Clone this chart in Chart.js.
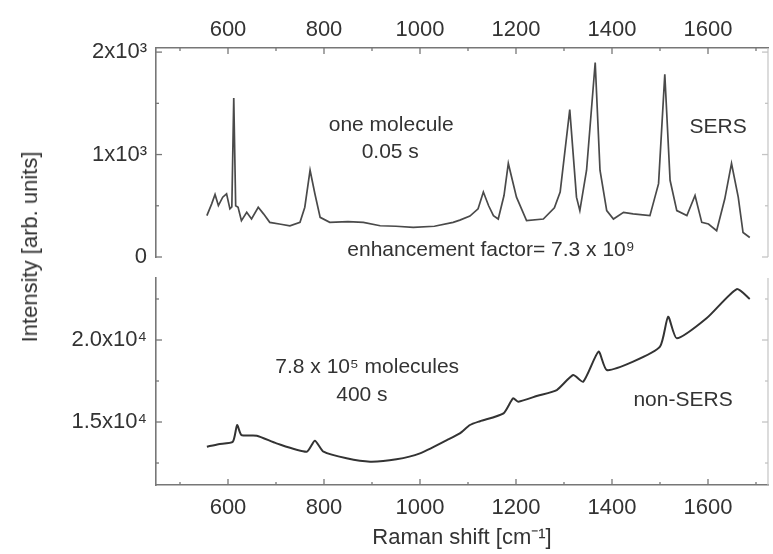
<!DOCTYPE html>
<html>
<head>
<meta charset="utf-8">
<script src="https://cdn.jsdelivr.net/npm/chart.js@4/dist/chart.umd.min.js"></script>
<style>
  html, body { margin: 0; padding: 0; background: #ffffff; }
  #wrap { position: relative; width: 773px; height: 554px; overflow: hidden; background: #fff; }
  canvas { position: absolute; left: 0; top: 0; }
  #ytitle { position: absolute; left: 30px; top: 247px; transform: translate(-50%, -50%) rotate(-90deg);
    font-family: "Liberation Sans", Arial, sans-serif; font-size: 22px; color: #333; white-space: nowrap; }
</style>
</head>
<body>
<div id="wrap">
  <canvas id="top" width="773" height="554"></canvas>
  <canvas id="bottom" width="773" height="554"></canvas>
  <div id="ytitle">Intensity [arb. units]</div>
</div>
<script>
// ---- data ----
const sersShift = [556,566,573,580,589,597,604,608,612,616,621,628,639,649,663,674,687,710,729,750,760,771,781,792,812,850,882,917,950,986,1030,1069,1083,1104,1121,1132,1143,1153,1163,1175,1184,1201,1222,1257,1280,1292,1312,1326,1333,1347,1365,1375,1389,1403,1424,1444,1479,1497,1510,1521,1535,1556,1573,1587,1601,1618,1635,1649,1663,1673,1687];
const sersIntensity = [404,519,611,502,584,617,470,490,1553,500,486,355,436,371,486,421,338,320,305,338,486,847,617,387,338,345,338,305,300,289,300,338,360,400,470,634,500,404,371,600,913,584,355,371,480,634,1438,584,453,847,1898,847,453,371,436,421,404,716,1783,749,453,404,601,338,322,256,568,913,584,239,190];

const nonSersShift = [556,580,610,619,628,660,701,764,781,799,847,896,951,1000,1056,1083,1104,1125,1174,1194,1205,1245,1285,1319,1340,1372,1389,1444,1500,1517,1535,1597,1660,1687];
const nonSersIntensity = [13494,13650,13800,14817,14207,14165,13700,13190,13860,13190,12785,12580,12725,13090,13900,14310,14817,15050,15530,16445,16240,16600,16950,17865,17460,19290,18170,18680,19590,21420,20100,21320,23100,22500];

const shiftTicks = [500,600,700,800,900,1000,1100,1200,1300,1400,1500,1600,1700];
const shiftLabels = [600,800,1000,1200,1400,1600];
const sersTicks = [0,500,1000,1500,2000];
const sersTickLabels = {0:'0', 1000:'1x10\u00B3', 2000:'2x10\u00B3'};
const nonSersTicks = [12500,15000,17500,20000,22500];
const nonSersTickLabels = {15000:'1.5x10\u2074', 20000:'2.0x10\u2074'};

const FONT = '"Liberation Sans", Arial, sans-serif';
const TEXT = '#333';
const AXIS = '#777';

// ---- plugins ----
const inwardTicks = {
  id: 'inwardTicks',
  afterDraw(chart, args, opts) {
    const {ctx, chartArea: a} = chart;
    const xs = chart.scales.x, ys = chart.scales.y;
    ctx.save();
    ctx.lineWidth = 1.3;
    ctx.strokeStyle = AXIS;
    xs.ticks.forEach(t => {
      const p = xs.getPixelForValue(t.value);
      const len = shiftLabels.includes(t.value) ? 6 : 3;
      const y0 = opts.xEdge === 'top' ? a.top : a.bottom;
      const d = opts.xEdge === 'top' ? 1 : -1;
      ctx.beginPath(); ctx.moveTo(p, y0); ctx.lineTo(p, y0 + d * len); ctx.stroke();
    });
    ys.ticks.forEach(t => {
      const p = ys.getPixelForValue(t.value);
      const len = opts.yLabels[t.value] !== undefined ? 6 : 3;
      ctx.strokeStyle = AXIS;
      ctx.beginPath(); ctx.moveTo(a.left, p); ctx.lineTo(a.left + len, p); ctx.stroke();
      ctx.strokeStyle = '#c4c4c4';
      ctx.beginPath(); ctx.moveTo(a.right, p); ctx.lineTo(a.right - len, p); ctx.stroke();
    });
    ctx.strokeStyle = '#c4c4c4';
    ctx.lineWidth = 1.2;
    ctx.beginPath(); ctx.moveTo(a.right, a.top); ctx.lineTo(a.right, a.bottom); ctx.stroke();
    ctx.restore();
  }
};

const notes = {
  id: 'notes',
  afterDraw(chart, args, opts) {
    const {ctx} = chart;
    const xs = chart.scales.x, ys = chart.scales.y;
    ctx.save();
    ctx.fillStyle = TEXT;
    ctx.font = '21px ' + FONT;
    ctx.textAlign = 'center';
    ctx.textBaseline = 'middle';
    opts.items.forEach(it => {
      ctx.fillText(it.text, xs.getPixelForValue(it.x), ys.getPixelForValue(it.y));
    });
    ctx.restore();
  }
};

function xScale(position, height, padding, title) {
  return {
    type: 'linear', position: position, min: 450, max: 1725,
    afterBuildTicks: s => { s.ticks = shiftTicks.map(v => ({value: v})); },
    afterFit: s => { s.height = height; },
    grid: {display: false, drawTicks: false},
    border: {display: true, color: AXIS, width: 1.6},
    ticks: {
      autoSkip: false, maxRotation: 0, minRotation: 0, padding: padding,
      color: TEXT, font: {family: FONT, size: 22},
      callback: v => shiftLabels.includes(v) ? String(v) : ''
    },
    title: title
  };
}

function yScale(min, max, ticks, labels) {
  return {
    type: 'linear', min: min, max: max,
    afterBuildTicks: s => { s.ticks = ticks.map(v => ({value: v})); },
    afterFit: s => { s.width = 156; },
    grid: {display: false, drawTicks: false},
    border: {display: true, color: AXIS, width: 1.6},
    ticks: {
      autoSkip: false, padding: 9, color: TEXT, font: {family: FONT, size: 22},
      callback: v => labels[v] !== undefined ? labels[v] : ''
    }
  };
}

// ---- top panel: SERS ----
new Chart(document.getElementById('top'), {
  type: 'line',
  data: {
    datasets: [{
      data: sersShift.map((x, i) => ({x: x, y: sersIntensity[i]})),
      borderColor: '#4a4a4a', borderWidth: 1.7, pointRadius: 0, tension: 0, fill: false
    }]
  },
  options: {
    animation: false, responsive: false, events: [],
    layout: {padding: {left: 0, right: 5, top: 0, bottom: 297}},
    plugins: {
      legend: {display: false}, tooltip: {enabled: false},
      inwardTicks: {xEdge: 'top', yLabels: sersTickLabels},
      notes: {items: [
        {text: 'one molecule', x: 940, y: 1288},
        {text: '0.05 s', x: 938, y: 1025},
        {text: 'SERS', x: 1621, y: 1269},
        {text: 'enhancement factor= 7.3 x 10\u2079', x: 1148, y: 68}
      ]}
    },
    scales: {
      x: xScale('top', 48, 5, {display: false}),
      y: yScale(0, 2040, sersTicks, sersTickLabels)
    }
  },
  plugins: [inwardTicks, notes]
});

// ---- bottom panel: non-SERS ----
new Chart(document.getElementById('bottom'), {
  type: 'line',
  data: {
    datasets: [{
      data: nonSersShift.map((x, i) => ({x: x, y: nonSersIntensity[i]})),
      borderColor: '#333333', borderWidth: 2, pointRadius: 0, tension: 0.2, fill: false
    }]
  },
  options: {
    animation: false, responsive: false, events: [],
    layout: {padding: {left: 0, right: 5, top: 278, bottom: 0}},
    plugins: {
      legend: {display: false}, tooltip: {enabled: false},
      inwardTicks: {xEdge: 'bottom', yLabels: nonSersTickLabels},
      notes: {items: [
        {text: '7.8 x 10\u2075 molecules', x: 890, y: 18354},
        {text: '400 s', x: 879, y: 16647},
        {text: 'non-SERS', x: 1548, y: 16342}
      ]}
    },
    scales: {
      x: xScale('bottom', 69, 10, {
        display: true, text: 'Raman shift [cm\u207B\u00B9]', color: TEXT,
        font: {family: FONT, size: 22}, padding: {top: 0, bottom: 3}
      }),
      y: yScale(11160, 23780, nonSersTicks, nonSersTickLabels)
    }
  },
  plugins: [inwardTicks, notes]
});
</script>
</body>
</html>
